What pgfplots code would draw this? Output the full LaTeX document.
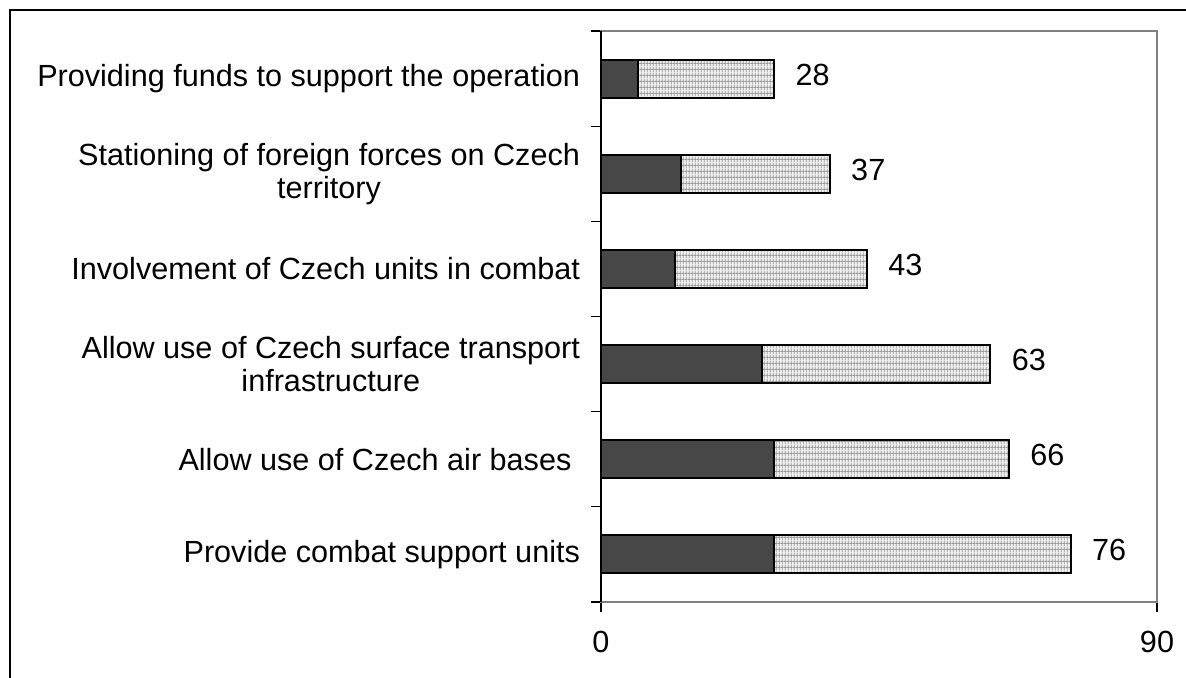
\documentclass[border=0pt]{standalone}
\usepackage{pgfplots}
\pgfplotsset{compat=1.18}
\usepackage{pgfplotstable}
\usepackage{fontspec}
\setmainfont{Liberation Sans}
\usetikzlibrary{patterns.meta}
\tikzdeclarepattern{
  name=mygrid,
  type=uncolored,
  bottom left={(0pt,0pt)},
  top right={(1.6pt,3pt)},
  tile size={(1.6pt,3pt)},
  code={
    \draw[line width=0.55pt] (0.8pt,-0.1pt) -- (0.8pt,3.1pt);
    \draw[line width=0.55pt] (-0.1pt,1.5pt) -- (1.7pt,1.5pt);
  }
}
\pgfplotstableread{
y a b t
0.5 28 48 76
1.5 28 38 66
2.5 26 37 63
3.5 12 31 43
4.5 13 24 37
5.5 6 22 28
}\mydata
\begin{document}
\begin{tikzpicture}
\useasboundingbox (0,0) rectangle (593pt,339pt);
\draw[line width=1pt] (5pt,-20pt) |- (620pt,333.75pt);
\begin{axis}[
  at={(300.5pt,38pt)}, anchor=south west,
  scale only axis, width=278pt, height=285.5pt,
  xmin=0, xmax=90, ymin=0, ymax=6,
  xbar, bar width=19pt, bar shift=0pt,
  /pgf/number format/assume math mode=true,
  font=\fontsize{15.3}{16.5}\selectfont,
  axis line style={gray, line width=1pt},
  xtick={0,90}, xticklabels={0,90},
  ytick={0,1,2,3,4,5,6},
  y tick label as interval,
  yticklabels={Provide combat support units, Allow use of Czech air bases\ , {Allow use of Czech surface transport\\infrastructure}, Involvement of Czech units in combat, {Stationing of foreign forces on Czech\\territory}, Providing funds to support the operation},
  yticklabel style={align=center, xshift=-2pt},
  xticklabel style={yshift=-6pt},
  tick align=outside, major tick length=5pt,
  tick style={black, line width=0.6pt},
  xtick pos=bottom, ytick pos=left,
  clip=false,
]
% light segment drawn as full bar (total), dark segment drawn over it
\addplot[fill=black!6, draw=black, line width=1pt, postaction={pattern=mygrid, pattern color=gray!80},
  nodes near coords, point meta=explicit,
  every node near coord/.append style={anchor=west, xshift=7pt, yshift=2pt, font=\fontsize{15.3}{16.5}\selectfont, black}]
  table[x=t, y=y, meta=t] {\mydata};
\addplot[fill=black!72, draw=black, line width=1pt] table[x=a, y=y] {\mydata};
\draw[black, line width=1pt] (rel axis cs:0,0) -- (rel axis cs:0,1);
\end{axis}
\end{tikzpicture}
\end{document}
